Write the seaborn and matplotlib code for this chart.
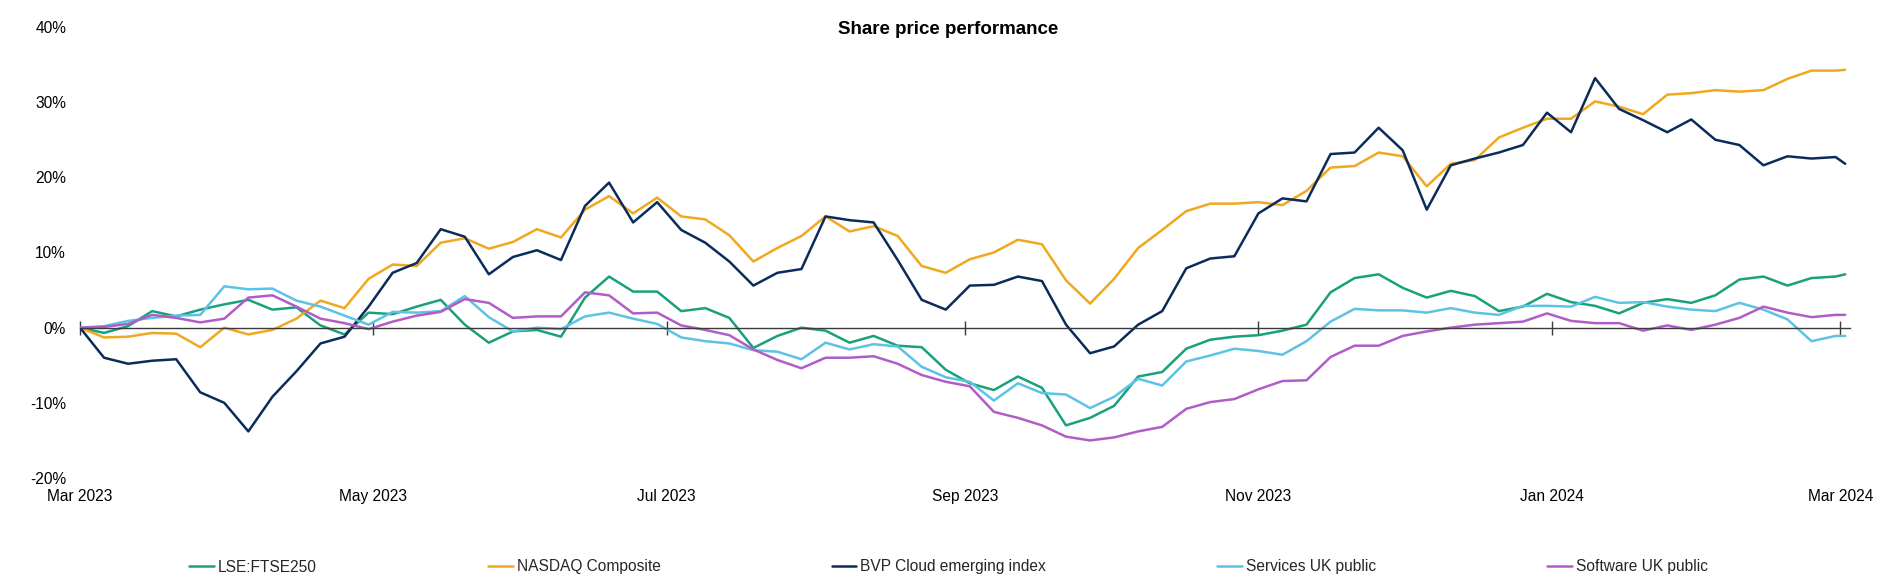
import pandas as pd
import matplotlib
matplotlib.use("Agg")
import matplotlib.pyplot as plt
import matplotlib.dates as mdates
from matplotlib.ticker import FuncFormatter, MultipleLocator
import seaborn as sns

sns.set_theme(style="white")
plt.rcParams['font.family'] = ['Liberation Sans', 'DejaVu Sans']

# -------------------------------
# Data (% change since 1 Mar 2023)
dates = [
    '2023-03-01', '2023-03-06', '2023-03-11', '2023-03-16', '2023-03-21', '2023-03-26', '2023-03-31',
    '2023-04-05', '2023-04-10', '2023-04-15', '2023-04-20', '2023-04-25', '2023-04-30',
    '2023-05-05', '2023-05-10', '2023-05-15', '2023-05-20', '2023-05-25', '2023-05-30',
    '2023-06-04', '2023-06-09', '2023-06-14', '2023-06-19', '2023-06-24', '2023-06-29',
    '2023-07-04', '2023-07-09', '2023-07-14', '2023-07-19', '2023-07-24', '2023-07-29',
    '2023-08-03', '2023-08-08', '2023-08-13', '2023-08-18', '2023-08-23', '2023-08-28',
    '2023-09-02', '2023-09-07', '2023-09-12', '2023-09-17', '2023-09-22', '2023-09-27',
    '2023-10-02', '2023-10-07', '2023-10-12', '2023-10-17', '2023-10-22', '2023-10-27',
    '2023-11-01', '2023-11-06', '2023-11-11', '2023-11-16', '2023-11-21', '2023-11-26',
    '2023-12-01', '2023-12-06', '2023-12-11', '2023-12-16', '2023-12-21', '2023-12-26',
    '2023-12-31', '2024-01-05', '2024-01-10', '2024-01-15', '2024-01-20', '2024-01-25',
    '2024-01-30', '2024-02-04', '2024-02-09', '2024-02-14', '2024-02-19', '2024-02-24',
    '2024-02-29', '2024-03-02',
]

ftse250 = [
    0, -0.7, 0.2, 2.2, 1.5, 2.4, 3.1, 3.7, 2.4, 2.7,
    0.3, -0.9, 2.0, 1.8, 2.8, 3.7, 0.4, -2.0, -0.5, -0.3,
    -1.2, 4.0, 6.8, 4.8, 4.8, 2.2, 2.6, 1.3, -2.7, -1.1,
    0.0, -0.4, -2.0, -1.1, -2.4, -2.6, -5.6, -7.4, -8.3, -6.5,
    -8.0, -13.0, -12.0, -10.4, -6.5, -5.9, -2.8, -1.6, -1.2, -1.0,
    -0.4, 0.4, 4.7, 6.6, 7.1, 5.3, 4.0, 4.9, 4.2, 2.2,
    2.8, 4.5, 3.4, 2.9, 1.9, 3.3, 3.8, 3.3, 4.3, 6.4,
    6.8, 5.6, 6.6, 6.8, 7.1,
]

nasdaq = [
    0, -1.3, -1.2, -0.7, -0.8, -2.6, 0.0, -0.9, -0.3, 1.2,
    3.6, 2.6, 6.5, 8.4, 8.2, 11.3, 11.9, 10.5, 11.4, 13.1,
    12.0, 15.7, 17.5, 15.2, 17.3, 14.8, 14.4, 12.3, 8.8, 10.6,
    12.2, 14.8, 12.8, 13.5, 12.2, 8.2, 7.3, 9.1, 10.0, 11.7,
    11.1, 6.3, 3.2, 6.5, 10.6, 13.0, 15.5, 16.5, 16.5, 16.7,
    16.3, 18.2, 21.3, 21.5, 23.3, 22.8, 18.8, 21.8, 22.3, 25.3,
    26.6, 27.8, 27.8, 30.1, 29.4, 28.4, 31.0, 31.2, 31.6, 31.4,
    31.6, 33.1, 34.2, 34.2, 34.3,
]

bvp_cloud = [
    0, -4.0, -4.8, -4.4, -4.2, -8.6, -10.0, -13.8, -9.2, -5.8,
    -2.1, -1.2, 2.8, 7.3, 8.6, 13.1, 12.1, 7.1, 9.4, 10.3,
    9.0, 16.2, 19.3, 14.0, 16.7, 13.0, 11.3, 8.8, 5.6, 7.3,
    7.8, 14.8, 14.3, 14.0, 9.0, 3.7, 2.4, 5.6, 5.7, 6.8,
    6.2, 0.4, -3.4, -2.5, 0.4, 2.2, 7.9, 9.2, 9.5, 15.2,
    17.2, 16.8, 23.1, 23.3, 26.6, 23.6, 15.7, 21.6, 22.5, 23.3,
    24.3, 28.6, 26.0, 33.2, 29.1, 27.6, 26.0, 27.7, 25.0, 24.3,
    21.6, 22.8, 22.5, 22.7, 21.8,
]

services_uk = [
    0, 0.2, 0.9, 1.3, 1.6, 1.7, 5.5, 5.1, 5.2, 3.6,
    2.8, 1.6, 0.4, 2.1, 2.0, 2.2, 4.2, 1.4, -0.5, 0.0,
    -0.2, 1.5, 2.0, 1.2, 0.5, -1.3, -1.8, -2.1, -3.0, -3.2,
    -4.2, -2.0, -2.9, -2.2, -2.5, -5.2, -6.6, -7.2, -9.7, -7.4,
    -8.7, -8.9, -10.7, -9.2, -6.8, -7.7, -4.5, -3.7, -2.8, -3.1,
    -3.6, -1.8, 0.8, 2.5, 2.3, 2.3, 2.0, 2.6, 2.0, 1.7,
    2.9, 2.9, 2.8, 4.1, 3.3, 3.4, 2.8, 2.4, 2.2, 3.3,
    2.4, 1.1, -1.8, -1.1, -1.1,
]

software_uk = [
    0, 0.1, 0.5, 1.7, 1.3, 0.7, 1.2, 4.0, 4.3, 2.8,
    1.2, 0.6, -0.2, 0.8, 1.6, 2.1, 3.8, 3.3, 1.3, 1.5,
    1.5, 4.7, 4.3, 1.9, 2.0, 0.3, -0.3, -1.0, -2.9, -4.3,
    -5.4, -4.0, -4.0, -3.8, -4.8, -6.3, -7.2, -7.8, -11.2, -12.0,
    -13.0, -14.5, -15.0, -14.6, -13.8, -13.2, -10.8, -9.9, -9.5, -8.2,
    -7.1, -7.0, -3.9, -2.4, -2.4, -1.1, -0.5, 0.0, 0.4, 0.6,
    0.8, 1.9, 0.9, 0.6, 0.6, -0.4, 0.3, -0.3, 0.4, 1.3,
    2.8, 2.0, 1.4, 1.7, 1.7,
]

series_names = ['LSE:FTSE250', 'NASDAQ Composite', 'BVP Cloud emerging index',
                'Services UK public', 'Software UK public']
colours = ['#19A17D', '#F0A81E', '#0B2C5A', '#5CC3E4', '#B05DC8']

df = pd.DataFrame({
    'Date': pd.to_datetime(dates),
    'LSE:FTSE250': ftse250,
    'NASDAQ Composite': nasdaq,
    'BVP Cloud emerging index': bvp_cloud,
    'Services UK public': services_uk,
    'Software UK public': software_uk,
})
df_long = df.melt(id_vars='Date', var_name='Series', value_name='Change')

# -------------------------------
# Figure
W, H = 1897, 586
fig = plt.figure(figsize=(W / 100, H / 100), dpi=100)
ax = fig.add_axes([80 / W, 1 - 478 / H, (1850 - 80) / W, (478 - 27) / H])

sns.lineplot(data=df_long, x='Date', y='Change', hue='Series', hue_order=series_names,
             palette=dict(zip(series_names, colours)), linewidth=1.8, ax=ax)

ax.set_xlim(pd.Timestamp('2023-03-01'), pd.Timestamp('2024-03-03'))
ax.set_ylim(-20, 40)
ax.set_xlabel('')
ax.set_ylabel('')

# y axis: percentages, no tick marks
ax.yaxis.set_major_locator(MultipleLocator(10))
ax.yaxis.set_major_formatter(FuncFormatter(lambda v, p: f'{v:.0f}%'))
ax.tick_params(axis='y', length=0, pad=10, labelsize=11.2, labelcolor='black')

# zero line with crossing ticks, labels at the bottom
months = [1, 3, 5, 7, 9, 11]
for s in ['top', 'right', 'left']:
    ax.spines[s].set_visible(False)
ax.spines['bottom'].set_position(('data', 0))
ax.spines['bottom'].set_color('#3A3A3A')
ax.spines['bottom'].set_linewidth(1.0)
ax.xaxis.set_major_locator(mdates.MonthLocator(bymonth=months))
ax.tick_params(axis='x', direction='inout', length=10, width=1, color='#3A3A3A',
               bottom=True, labelbottom=False)

sec = ax.secondary_xaxis('bottom')
sec.xaxis.set_major_locator(mdates.MonthLocator(bymonth=months))
sec.xaxis.set_major_formatter(mdates.DateFormatter('%b %Y'))
sec.tick_params(length=0, pad=8, labelsize=11.2, labelcolor='black')
sec.spines['bottom'].set_visible(False)

fig.text(0.5, 1 - 29 / H, 'Share price performance', ha='center', va='center',
         fontsize=13.5, fontweight='bold', color='black')

handles, labels = ax.get_legend_handles_labels()
if ax.get_legend() is not None:
    ax.get_legend().remove()
fig.legend(handles, labels, loc='center', bbox_to_anchor=(0.5, 1 - 567 / H), ncol=5,
           frameon=False, fontsize=11.2, columnspacing=11, handlelength=1.6,
           handletextpad=0.25)

fig.savefig('out.png', dpi=100)
